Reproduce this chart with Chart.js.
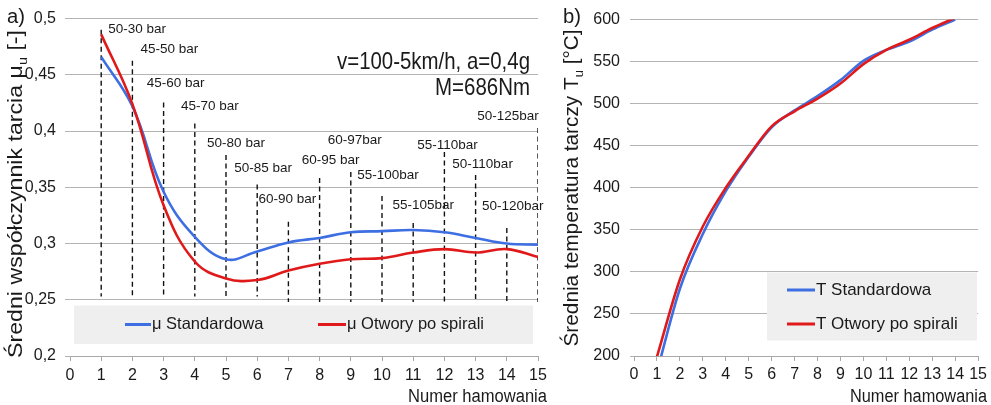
<!DOCTYPE html>
<html><head><meta charset="utf-8">
<script src="https://cdn.jsdelivr.net/npm/chart.js@4/dist/chart.umd.min.js"></script>
<style>
html,body{margin:0;padding:0;background:#fff;width:991px;height:405px;overflow:hidden}
#a{position:absolute;left:0;top:0}
#b{position:absolute;left:556px;top:0}
</style></head><body>
<canvas id="a" width="556" height="405"></canvas>
<canvas id="b" width="435" height="405"></canvas>
<script>
// ---------- data ----------
const brakingNumbers = [1,2,3,4,5,6,7,8,9,10,11,12,13,14,15];
const muStandard = [0.466,0.422,0.346,0.306,0.286,0.293,0.301,0.305,0.310,0.311,0.312,0.310,0.305,0.300,0.299];
const muSpiral   = [0.486,0.424,0.334,0.284,0.269,0.2675,0.276,0.282,0.286,0.287,0.292,0.295,0.292,0.295,0.288];
const pressureLabels = ["50-30 bar","45-50 bar","45-60 bar","45-70 bar","50-80 bar","50-85 bar","60-90 bar","60-95 bar","60-97bar","55-100bar","55-105bar","55-110bar","50-110bar","50-120bar","50-125bar"];
const markerTop    = [0.490,0.4625,0.4255,0.4068,0.3787,0.3526,0.3194,0.3582,0.3636,0.3422,0.3182,0.3813,0.3609,0.3138,0.4027];
const markerBottom = [0.253,0.253,0.253,0.253,0.253,0.253,0.248,0.248,0.248,0.248,0.248,0.248,0.248,0.248,0.248];
const tempBraking  = [1,2,3,4,5,6,7,8,9,10,11,12,13,14];
const tempStandard = [181,280,345,396,437,472,492,509,528,551,564,574,588,600];
const tempSpiral   = [199,291,354,400,438,473,491,506,524,547,564,576,590,602];
const legendA = ["μ Standardowa","μ Otwory po spirali"];
const legendB = ["T Standardowa","T Otwory po spirali"];

// ---------- styles ----------
const FONT = "'Liberation Sans', Arial, sans-serif";
const BLUE = '#3d6fe3', RED = '#e01a1a', GRID = '#b4b4b4', TXT = '#1a1a1a';
const labelOffsets = [[36,-1],[37,-11],[12,-19],[15,-17],[10,-12],[6,-16],[-1,-22],[11,-18],[4,-32],[6,-21],[10,-18],[3,-7],[7,-11],[6,-22],[-30,-12]];
Chart.defaults.font.family = FONT;
Chart.defaults.color = TXT;

function fitText(ctx, text, x, y, size, align, targetW, color){
  ctx.save();
  ctx.font = size + 'px ' + FONT;
  ctx.fillStyle = color || TXT;
  ctx.textBaseline = 'middle';
  ctx.textAlign = 'left';
  const w = ctx.measureText(text).width;
  const s = targetW ? targetW / w : 1;
  const W = w * s;
  const x0 = align === 'right' ? x - W : (align === 'center' ? x - W/2 : x);
  ctx.translate(x0, y); ctx.scale(s, 1);
  ctx.fillText(text, 0, 0);
  ctx.restore();
}
function yTitle(ctx, parts, bx, cy, size, targetLen){
  ctx.save();
  ctx.fillStyle = TXT; ctx.textBaseline = 'alphabetic'; ctx.textAlign = 'left';
  let w = 0; const ws = [];
  parts.forEach(p => { ctx.font = (p.sub ? size*0.62 : size) + 'px ' + FONT; const m = ctx.measureText(p.t).width; ws.push(m); w += m; });
  const s = targetLen / w;
  ctx.translate(bx, cy); ctx.rotate(-Math.PI/2); ctx.scale(s, 1);
  let x = -w/2;
  parts.forEach((p,i) => { ctx.font = (p.sub ? size*0.62 : size) + 'px ' + FONT; ctx.fillText(p.t, x, p.sub ? size*0.22 : 0); x += ws[i]; });
  ctx.restore();
}
function legendBox(ctx, x, y, w, h, items){
  ctx.save();
  ctx.fillStyle = '#efefef'; ctx.fillRect(x, y, w, h);
  items.forEach(it => {
    ctx.strokeStyle = it.color; ctx.lineWidth = 3; ctx.beginPath();
    ctx.moveTo(it.x, it.y); ctx.lineTo(it.x + it.len, it.y); ctx.stroke();
    fitText(ctx, it.text, it.x + it.len + 1, it.y, it.size, 'left');
  });
  ctx.restore();
}
const fmt = v => (Math.round(v*100)/100).toString().replace('.', ',');

// ---------- chart a ----------
const dashData = [];
brakingNumbers.forEach((n,i) => { dashData.push({x:n, y:markerTop[i]}, {x:n, y:markerBottom[i]}, {x:n+0.5, y:null}); });

const plugA = {
  id:'plugA',
  afterDatasetsDraw(chart){
    const {ctx, scales:{x, y}} = chart;
    pressureLabels.forEach((t,i) => {
      const px = x.getPixelForValue(brakingNumbers[i]) + labelOffsets[i][0];
      const py = y.getPixelForValue(markerTop[i]) + labelOffsets[i][1];
      fitText(ctx, t, px, py, 13.5, 'center');
    });
    legendBox(ctx, 74, 305.5, 459, 38.5, [
      {color:BLUE, x:125, y:324.5, len:26, text:legendA[0], size:16.5},
      {color:RED, x:318, y:324.5, len:28, text:legendA[1], size:16.5}
    ]);
  },
  afterDraw(chart){
    const ctx = chart.ctx;
    fitText(ctx, 'v=100-5km/h, a=0,4g', 530, 62, 24, 'right', 193);
    fitText(ctx, 'M=686Nm', 530, 88, 24, 'right', 95);
    fitText(ctx, 'a)', 7, 17, 20, 'left', 18);
    fitText(ctx, 'Numer hamowania', 547, 397, 18, 'right', 139);
    yTitle(ctx, [{t:'Średni współczynnik tarcia μ'},{t:'u', sub:true},{t:' [-]'}], 22, 194, 21, 328);
  }
};

new Chart(document.getElementById('a'), {
  type:'line',
  data:{ datasets:[
    {label:legendA[0], data:brakingNumbers.map((n,i)=>({x:n,y:muStandard[i]})), borderColor:BLUE, borderWidth:2.6, tension:0.4, pointRadius:0, order:2},
    {label:legendA[1], data:brakingNumbers.map((n,i)=>({x:n,y:muSpiral[i]})), borderColor:RED, borderWidth:2.6, tension:0.4, pointRadius:0, order:1},
    {label:'p', data:dashData, borderColor:'#111', borderWidth:1.4, borderDash:[5,3.5], tension:0, pointRadius:0, spanGaps:false, order:3}
  ]},
  options:{
    responsive:false, animation:false, devicePixelRatio:1,
    layout:{padding:{top:18, right:18, left:0, bottom:0}},
    plugins:{legend:{display:false}, tooltip:{enabled:false}},
    scales:{
      x:{type:'linear', min:0, max:15,
        ticks:{stepSize:1, font:{size:16}, color:TXT, padding:5, maxRotation:0, autoSkip:false},
        grid:{drawOnChartArea:false, drawTicks:true, tickLength:5, color:'#a8a8a8'},
        border:{display:true, color:'#a8a8a8'},
        afterFit(s){ s.height = 49; }},
      y:{min:0.2, max:0.5,
        ticks:{stepSize:0.05, font:{size:16}, color:TXT, padding:9, callback:v=>fmt(v)},
        grid:{color:GRID, tickLength:5, drawTicks:true},
        border:{display:false},
        afterFit(s){ s.width = 70; }}
    }
  },
  plugins:[plugA]
});

// ---------- chart b ----------
const plugB = {
  id:'plugB',
  afterDatasetsDraw(chart){
    legendBox(chart.ctx, 211, 272.5, 210, 68, [
      {color:BLUE, x:231, y:290, len:28, text:legendB[0], size:17},
      {color:RED, x:231, y:324, len:28, text:legendB[1], size:17}
    ]);
  },
  afterDraw(chart){
    const ctx = chart.ctx;
    fitText(ctx, 'b)', 7, 17, 20, 'left', 18);
    fitText(ctx, 'Numer hamowania', 431, 397, 18, 'right', 137);
    yTitle(ctx, [{t:'Średnia temperatura tarczy T'},{t:'u', sub:true},{t:' [°C]'}], 22, 188, 21, 317);
  }
};

new Chart(document.getElementById('b'), {
  type:'line',
  data:{ datasets:[
    {label:legendB[0], data:tempBraking.map((n,i)=>({x:n,y:tempStandard[i]})), borderColor:BLUE, borderWidth:2.6, cubicInterpolationMode:'monotone', pointRadius:0, order:2},
    {label:legendB[1], data:tempBraking.map((n,i)=>({x:n,y:tempSpiral[i]})), borderColor:RED, borderWidth:2.6, cubicInterpolationMode:'monotone', pointRadius:0, order:1}
  ]},
  options:{
    responsive:false, animation:false, devicePixelRatio:1,
    layout:{padding:{top:19, right:9, left:0, bottom:0}},
    plugins:{legend:{display:false}, tooltip:{enabled:false}},
    scales:{
      x:{type:'linear', min:0, max:15,
        ticks:{stepSize:1, font:{size:16}, color:TXT, padding:4, maxRotation:0, autoSkip:false},
        grid:{drawOnChartArea:false, drawTicks:true, tickLength:5, color:'#a8a8a8'},
        border:{display:true, color:'#a8a8a8'},
        afterFit(s){ s.height = 49; }},
      y:{min:200, max:600,
        ticks:{stepSize:50, font:{size:16}, color:TXT, padding:10},
        grid:{color:GRID, tickLength:4, drawTicks:true},
        border:{display:false},
        afterFit(s){ s.width = 78; }}
    }
  },
  plugins:[plugB]
});
</script>
</body></html>
